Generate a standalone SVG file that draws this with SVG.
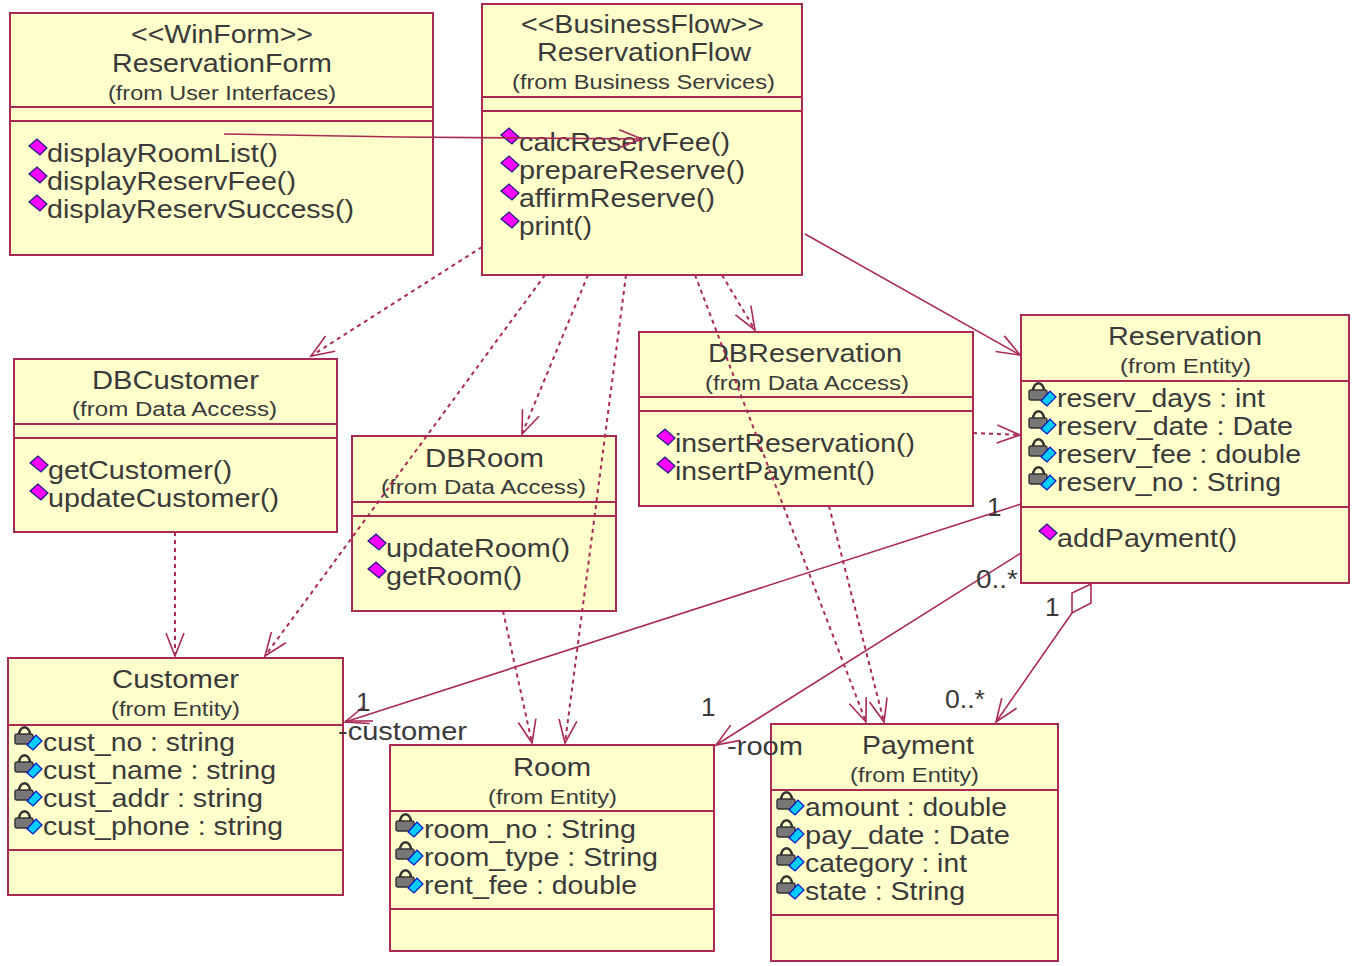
<svg xmlns="http://www.w3.org/2000/svg" width="1358" height="966" viewBox="0 0 1358 966">
<style>
.box{fill:#ffffcc;stroke:#a92a55;stroke-width:2}
.sep{stroke:#a92a55;stroke-width:2;fill:none}
text{font-family:"Liberation Sans",Arial,sans-serif;fill:#3a3a3a;}
.n{font-size:26px}
.s{font-size:20px}
.m{font-size:26px}
.c{stroke:#a92a55;stroke-width:1.6;fill:none}
.d{stroke-dasharray:4 4;stroke-width:2}
.a{marker-end:url(#open)}
</style>
<defs>
<marker id="open" markerUnits="userSpaceOnUse" markerWidth="30" markerHeight="24" refX="26" refY="12" orient="auto" overflow="visible"><path d="M3,3 L26,12 L3,21" fill="none" stroke="#a92a55" stroke-width="1.6"/></marker>
<g id="op"><path d="M-18,-16 L-10,-23 L0,-14 L-7,-7 Z" fill="#ff00ff" stroke="#1a1a80" stroke-width="1.2"/></g>
<g id="at"><path d="M-24,-16 a5,7 0 0 1 11,0" fill="none" stroke="#333" stroke-width="2.4"/><rect x="-28" y="-17" width="18" height="10" rx="2" fill="#777" stroke="#333" stroke-width="1.4"/><path d="M-16,-6 L-7,-16 L-1,-10 L-10,-1 Z" fill="#00ccff" stroke="#1010c0" stroke-width="1.2"/></g>
</defs>

<g id="ReservationForm">
<rect class="box" x="10" y="13" width="423" height="242"/><path class="sep" d="M10,107H433M10,121H433"/>
<text class="n" x="131" y="43" textLength="182" lengthAdjust="spacingAndGlyphs">&lt;&lt;WinForm&gt;&gt;</text>
<text class="n" x="112" y="72" textLength="220" lengthAdjust="spacingAndGlyphs">ReservationForm</text>
<text class="s" x="108" y="100" textLength="228" lengthAdjust="spacingAndGlyphs">(from User Interfaces)</text>
<use href="#op" x="47" y="162"/><text class="m" x="47" y="162" textLength="231" lengthAdjust="spacingAndGlyphs">displayRoomList()</text>
<use href="#op" x="47" y="190"/><text class="m" x="47" y="190" textLength="249" lengthAdjust="spacingAndGlyphs">displayReservFee()</text>
<use href="#op" x="47" y="218"/><text class="m" x="47" y="218" textLength="307" lengthAdjust="spacingAndGlyphs">displayReservSuccess()</text>
</g>

<g id="ReservationFlow">
<rect class="box" x="482" y="4" width="320" height="271"/><path class="sep" d="M482,97H802M482,111H802"/>
<text class="n" x="521" y="33" textLength="243" lengthAdjust="spacingAndGlyphs">&lt;&lt;BusinessFlow&gt;&gt;</text>
<text class="n" x="537" y="61" textLength="214" lengthAdjust="spacingAndGlyphs">ReservationFlow</text>
<text class="s" x="512" y="89" textLength="263" lengthAdjust="spacingAndGlyphs">(from Business Services)</text>
<use href="#op" x="519" y="151"/><text class="m" x="519" y="151" textLength="211" lengthAdjust="spacingAndGlyphs">calcReservFee()</text>
<use href="#op" x="519" y="179"/><text class="m" x="519" y="179" textLength="226" lengthAdjust="spacingAndGlyphs">prepareReserve()</text>
<use href="#op" x="519" y="207"/><text class="m" x="519" y="207" textLength="196" lengthAdjust="spacingAndGlyphs">affirmReserve()</text>
<use href="#op" x="519" y="235"/><text class="m" x="519" y="235" textLength="73" lengthAdjust="spacingAndGlyphs">print()</text>
</g>

<g id="DBCustomer">
<rect class="box" x="14" y="359" width="323" height="173"/><path class="sep" d="M14,424H337M14,438H337"/>
<text class="n" x="92" y="389" textLength="167" lengthAdjust="spacingAndGlyphs">DBCustomer</text>
<text class="s" x="72" y="416" textLength="205" lengthAdjust="spacingAndGlyphs">(from Data Access)</text>
<use href="#op" x="48" y="479"/><text class="m" x="48" y="479" textLength="184" lengthAdjust="spacingAndGlyphs">getCustomer()</text>
<use href="#op" x="48" y="507"/><text class="m" x="48" y="507" textLength="231" lengthAdjust="spacingAndGlyphs">updateCustomer()</text>
</g>

<g id="DBRoom">
<rect class="box" x="352" y="436" width="264" height="175"/><path class="sep" d="M352,502H616M352,516H616"/>
<text class="n" x="425" y="467" textLength="119" lengthAdjust="spacingAndGlyphs">DBRoom</text>
<text class="s" x="381" y="494" textLength="205" lengthAdjust="spacingAndGlyphs">(from Data Access)</text>
<use href="#op" x="386" y="557"/><text class="m" x="386" y="557" textLength="184" lengthAdjust="spacingAndGlyphs">updateRoom()</text>
<use href="#op" x="386" y="585"/><text class="m" x="386" y="585" textLength="136" lengthAdjust="spacingAndGlyphs">getRoom()</text>
</g>

<g id="DBReservation">
<rect class="box" x="639" y="332" width="334" height="174"/><path class="sep" d="M639,397H973M639,411H973"/>
<text class="n" x="708" y="362" textLength="194" lengthAdjust="spacingAndGlyphs">DBReservation</text>
<text class="s" x="705" y="390" textLength="204" lengthAdjust="spacingAndGlyphs">(from Data Access)</text>
<use href="#op" x="675" y="452"/><text class="m" x="675" y="452" textLength="240" lengthAdjust="spacingAndGlyphs">insertReservation()</text>
<use href="#op" x="675" y="480"/><text class="m" x="675" y="480" textLength="200" lengthAdjust="spacingAndGlyphs">insertPayment()</text>
</g>

<g id="Reservation">
<rect class="box" x="1021" y="315" width="328" height="268"/><path class="sep" d="M1021,381H1349M1021,507H1349"/>
<text class="n" x="1108" y="345" textLength="154" lengthAdjust="spacingAndGlyphs">Reservation</text>
<text class="s" x="1120" y="373" textLength="131" lengthAdjust="spacingAndGlyphs">(from Entity)</text>
<use href="#at" x="1057" y="407"/><text class="m" x="1057" y="407" textLength="208" lengthAdjust="spacingAndGlyphs">reserv_days : int</text>
<use href="#at" x="1057" y="435"/><text class="m" x="1057" y="435" textLength="236" lengthAdjust="spacingAndGlyphs">reserv_date : Date</text>
<use href="#at" x="1057" y="463"/><text class="m" x="1057" y="463" textLength="244" lengthAdjust="spacingAndGlyphs">reserv_fee : double</text>
<use href="#at" x="1057" y="491"/><text class="m" x="1057" y="491" textLength="224" lengthAdjust="spacingAndGlyphs">reserv_no : String</text>
<use href="#op" x="1057" y="547"/><text class="m" x="1057" y="547" textLength="180" lengthAdjust="spacingAndGlyphs">addPayment()</text>
</g>

<g id="Customer">
<rect class="box" x="8" y="658" width="335" height="237"/><path class="sep" d="M8,725H343M8,850H343"/>
<text class="n" x="112" y="688" textLength="127" lengthAdjust="spacingAndGlyphs">Customer</text>
<text class="s" x="111" y="716" textLength="129" lengthAdjust="spacingAndGlyphs">(from Entity)</text>
<use href="#at" x="43" y="751"/><text class="m" x="43" y="751" textLength="192" lengthAdjust="spacingAndGlyphs">cust_no : string</text>
<use href="#at" x="43" y="779"/><text class="m" x="43" y="779" textLength="233" lengthAdjust="spacingAndGlyphs">cust_name : string</text>
<use href="#at" x="43" y="807"/><text class="m" x="43" y="807" textLength="220" lengthAdjust="spacingAndGlyphs">cust_addr : string</text>
<use href="#at" x="43" y="835"/><text class="m" x="43" y="835" textLength="240" lengthAdjust="spacingAndGlyphs">cust_phone : string</text>
</g>

<g id="Room">
<rect class="box" x="390" y="745" width="324" height="206"/><path class="sep" d="M390,811H714M390,909H714"/>
<text class="n" x="513" y="776" textLength="78" lengthAdjust="spacingAndGlyphs">Room</text>
<text class="s" x="488" y="804" textLength="129" lengthAdjust="spacingAndGlyphs">(from Entity)</text>
<use href="#at" x="424" y="838"/><text class="m" x="424" y="838" textLength="212" lengthAdjust="spacingAndGlyphs">room_no : String</text>
<use href="#at" x="424" y="866"/><text class="m" x="424" y="866" textLength="234" lengthAdjust="spacingAndGlyphs">room_type : String</text>
<use href="#at" x="424" y="894"/><text class="m" x="424" y="894" textLength="213" lengthAdjust="spacingAndGlyphs">rent_fee : double</text>
</g>

<g id="Payment">
<rect class="box" x="771" y="724" width="287" height="237"/><path class="sep" d="M771,790H1058M771,915H1058"/>
<text class="n" x="862" y="754" textLength="112" lengthAdjust="spacingAndGlyphs">Payment</text>
<text class="s" x="850" y="782" textLength="129" lengthAdjust="spacingAndGlyphs">(from Entity)</text>
<use href="#at" x="805" y="816"/><text class="m" x="805" y="816" textLength="202" lengthAdjust="spacingAndGlyphs">amount : double</text>
<use href="#at" x="805" y="844"/><text class="m" x="805" y="844" textLength="205" lengthAdjust="spacingAndGlyphs">pay_date : Date</text>
<use href="#at" x="805" y="872"/><text class="m" x="805" y="872" textLength="162" lengthAdjust="spacingAndGlyphs">category : int</text>
<use href="#at" x="805" y="900"/><text class="m" x="805" y="900" textLength="160" lengthAdjust="spacingAndGlyphs">state : String</text>
</g>

<g id="connectors">
<path class="c a" d="M224,134 L400,137 L642,139"/>
<path class="c d a" d="M482,247 L311,356"/>
<path class="c d a" d="M545,275 L265,656"/>
<path class="c d a" d="M588,275 L522,434"/>
<path class="c d a" d="M626,275 L565,743"/>
<path class="c d a" d="M695,275 L866,722"/>
<path class="c d a" d="M722,275 L755,330"/>
<path class="c a" d="M805,234 L1020,355"/>
<path class="c d a" d="M973,433 L1020,435"/>
<path class="c d a" d="M175,532 L175,656"/>
<path class="c d a" d="M503,611 L532,743"/>
<path class="c d a" d="M829,506 L884,722"/>
<path class="c a" d="M1021,504 L345,722"/>
<path class="c" d="M345,721 H373"/>
<path class="c a" d="M1021,553 L716,745"/>
<path class="c" d="M1091,584 V603 L1072,613 V593 Z" style="fill:#fff"/>
<path class="c a" d="M1072,613 L996,722"/>
</g>

<g id="labels">
<text class="m" x="987" y="516">1</text>
<text class="m" x="976" y="588" textLength="42" lengthAdjust="spacingAndGlyphs">0..*</text>
<text class="m" x="1045" y="616">1</text>
<text class="m" x="945" y="708" textLength="40" lengthAdjust="spacingAndGlyphs">0..*</text>
<text class="m" x="701" y="716">1</text>
<text class="m" x="356" y="711">1</text>
<text class="m" x="338" y="740" textLength="129" lengthAdjust="spacingAndGlyphs">-customer</text>
<text class="m" x="727" y="755" textLength="76" lengthAdjust="spacingAndGlyphs">-room</text>
</g>
</svg>
